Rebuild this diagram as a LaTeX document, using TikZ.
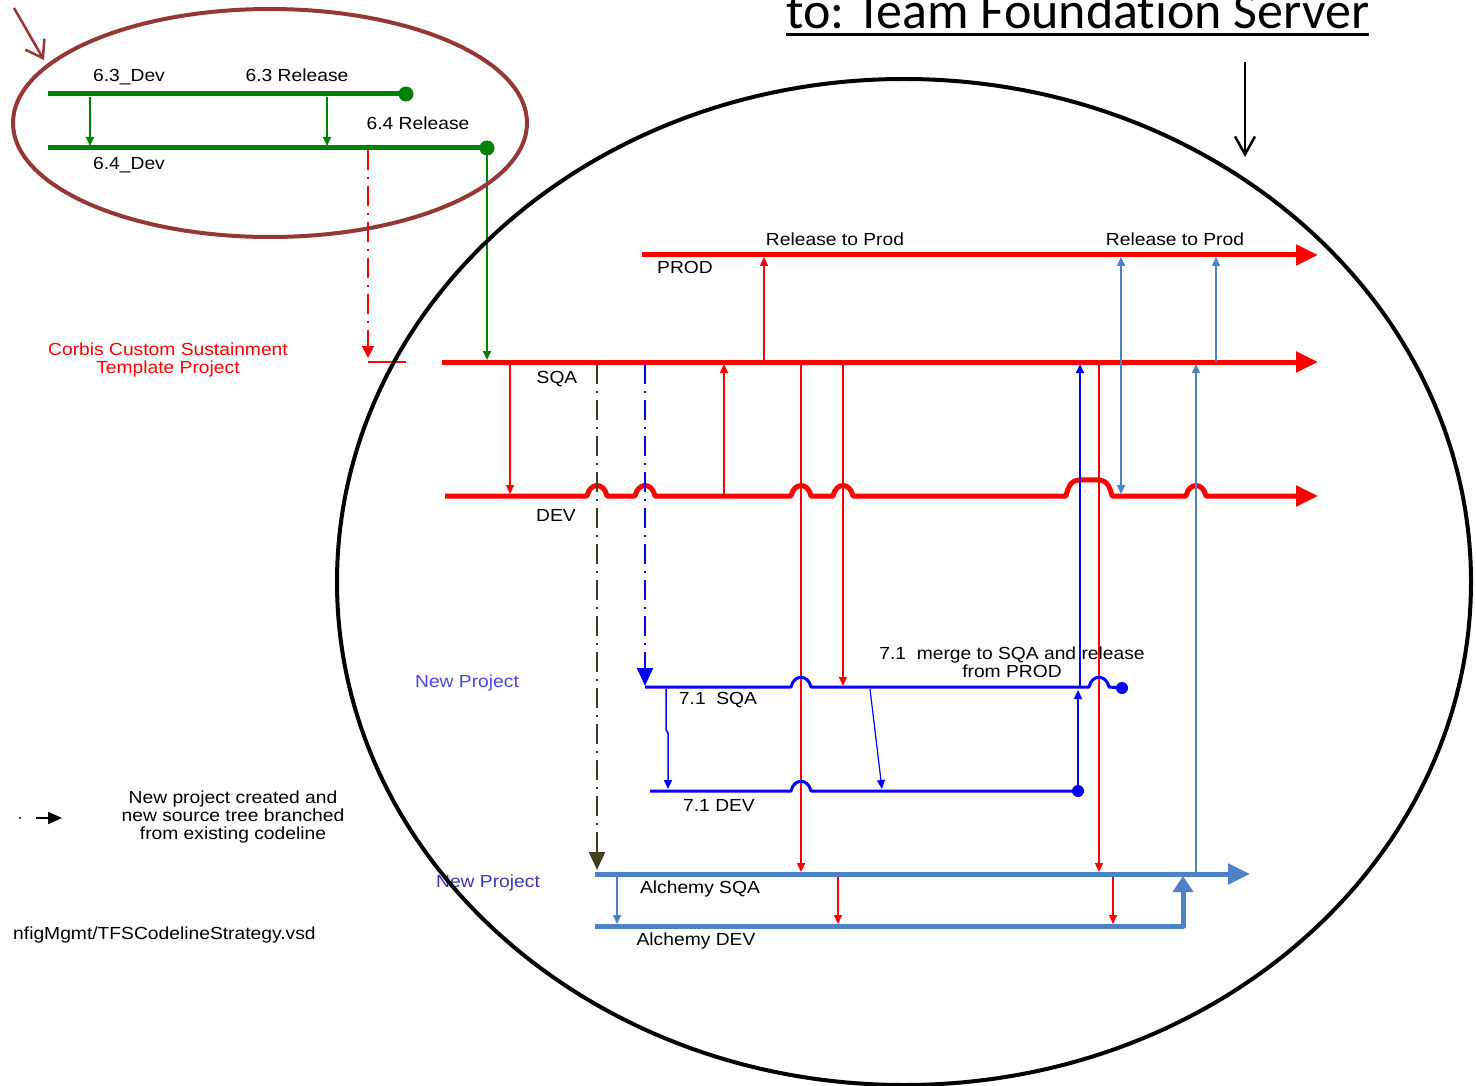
\documentclass[tikz,border=0pt]{standalone}
\usepackage{fontspec}
\setmainfont{Liberation Sans}[FakeStretch=1.1]
\newfontfamily\titlefont{Carlito}[Ligatures=NoCommon]
\usetikzlibrary{arrows.meta}

\definecolor{cbred}{RGB}{255,0,0}
\definecolor{cbgreen}{RGB}{0,128,0}
\definecolor{cbblue}{RGB}{0,0,255}
\definecolor{cbsteel}{RGB}{79,129,199}
\definecolor{cbmaroon}{RGB}{149,55,53}
\definecolor{cbolive}{RGB}{64,64,32}
\definecolor{cbproj}{RGB}{70,70,235}

\tikzset{
  lbl/.style={font=\fontsize{17.5}{18}\selectfont, inner sep=0pt, align=center},
  codeline/.style={line width=5pt, line join=round},
  thinarr/.style={line width=1.5pt, -{Triangle[length=9pt,width=8pt]}},
  bigarr/.style={-{Triangle[length=22pt,width=20pt]}},
  dashdot/.style={line width=2pt, dash pattern=on 20pt off 7pt on 2pt off 7pt},
}

\begin{document}
\begin{tikzpicture}[x=1pt, y=-1pt]
  \useasboundingbox (0,0) rectangle (1476,1086);

  % old green codelines
  \draw[codeline, cbgreen] (48,94) -- (406,94);
  \fill[cbgreen] (406,94) circle (7.5);
  \draw[codeline, cbgreen] (48,148) -- (487,148);
  \fill[cbgreen] (487,148) circle (7.5);
  \draw[thinarr, cbgreen] (90,97) -- (90,146);
  \draw[thinarr, cbgreen] (327,97) -- (327,146);
  \draw[thinarr, cbgreen, line width=2pt] (487,150) -- (487,360);
  \node[lbl] (dev63) at (129,77) {6.3\_Dev};
  \node[lbl] (rel63) at (297,75) {6.3 Release};
  \node[lbl] (rel64) at (418,123) {6.4 Release};
  \node[lbl] (dev64) at (129,165) {6.4\_Dev};

  % template project
  \draw[dashdot, cbred, line width=1.5pt, -{Triangle[length=12pt,width=12pt]}] (368,150) -- (368,358);
  \draw[cbred, line width=2pt] (368,362) -- (406,362);
  \node[lbl, text=cbred] (corbis) at (168,360) {Corbis Custom Sustainment\\Template Project};

  % PROD / SQA / DEV
  \draw[codeline, cbred, bigarr] (642,255) -- (1318,255);
  \draw[codeline, cbred, bigarr] (442,362) -- (1318,362);
  \draw[codeline, cbred, bigarr] (445,496) -- (587,496) .. controls (590,482) and (604,482) .. (607,496)
    -- (635,496) .. controls (638,482) and (652,482) .. (655,496)
    -- (791,496) .. controls (794,482) and (808,482) .. (811,496)
    -- (833,496) .. controls (836,482) and (850,482) .. (853,496)
    -- (1066,496) .. controls (1070,478) and (1076,480) .. (1089,480) .. controls (1102,480) and (1108,478) .. (1112,496)
    -- (1186,496) .. controls (1189,482) and (1203,482) .. (1206,496)
    -- (1318,496);
  \node[lbl] (prodlbl) at (685,267) {PROD};
  \node[lbl] (sqalbl) at (557,379) {SQA};
  \node[lbl] (devlbl) at (556,515) {DEV};
  \node[lbl] (relA) at (835,239) {Release to Prod};
  \node[lbl] (relB) at (1175,239) {Release to Prod};

  % red merges
  \draw[thinarr, cbred] (510,364) -- (510,494);
  \draw[thinarr, cbred] (724,496) -- (724,364);
  \draw[thinarr, cbred] (764,362) -- (764,257);
  \draw[thinarr, cbred] (801,364) -- (801,872);
  \draw[thinarr, cbred] (843,364) -- (843,686);
  \draw[thinarr, cbred] (1099,364) -- (1099,872);
  \draw[thinarr, cbred] (838,876) -- (838,924);
  \draw[thinarr, cbred] (1113,876) -- (1113,924);

  % project 7.1
  \draw[dashdot, cbblue, -{Triangle[length=18pt,width=16pt]}] (645,364) -- (645,686);
  \draw[line width=3pt, cbblue, line join=round] (645,687) -- (791,687) .. controls (794,674) and (808,674) .. (811,687)
    -- (1089,687) .. controls (1092,674) and (1106,674) .. (1109,687) -- (1122,688);
  \fill[cbblue] (1122,688) circle (6);
  \draw[line width=3pt, cbblue, line join=round] (650,791) -- (791,791) .. controls (794,778) and (808,778) .. (811,791) -- (1078,791);
  \fill[cbblue] (1078,791) circle (6);
  \draw[thinarr, cbblue] (666,689) -- (666,730) -- (668,733) -- (668,789);
  \draw[thinarr, cbblue, line width=1.2pt] (870,689) -- (882,789);
  \draw[thinarr, cbblue] (1078,785) -- (1078,690);
  \draw[thinarr, cbblue, line width=2pt] (1080,687) -- (1080,364);
  \node[lbl, text=cbproj] (newA) at (467,683) {New Project};
  \node[lbl] (sqa71) at (718,700) {7.1\ \ SQA};
  \node[lbl] (dev71) at (719,805) {7.1 DEV};
  \node[lbl] (merge71) at (1012,662) {7.1\ \ merge to SQA and release\\from PROD};

  % Alchemy
  \draw[dashdot, cbolive, -{Triangle[length=18pt,width=16pt]}] (597,364) -- (597,870);
  \draw[codeline, cbsteel, bigarr] (595,874) -- (1250,874);
  \draw[codeline, cbsteel, -{Triangle[length=16pt,width=20pt]}] (595,926) -- (1183,926) -- (1183,876);
  \draw[thinarr, cbsteel] (617,876) -- (617,924);
  \draw[thinarr, cbsteel] (1196,872) -- (1196,364);
  \draw[thinarr, cbsteel] (1216,362) -- (1216,257);
  \draw[line width=1.5pt, cbsteel, {Triangle[length=9pt,width=8pt]}-{Triangle[length=9pt,width=8pt]}] (1121,494) -- (1121,257);
  \node[lbl, text=cbproj!80!black] (newB) at (488,883) {New Project};
  \node[lbl] (alcsqa) at (700,889) {Alchemy SQA};
  \node[lbl] (alcdev) at (696,941) {Alchemy DEV};

  % legend
  \fill (20,818) circle (1.2);
  \draw[line width=2pt, -{Triangle[length=14pt,width=12pt]}] (36,818) -- (62,818);
  \node[lbl] (legend) at (233,817) {New project created and\\new source tree branched\\from existing codeline};
  \node[lbl, anchor=west] (vsd) at (13,935) {nfigMgmt/TFSCodelineStrategy.vsd};

  % call-outs
  \draw[cbmaroon, line width=4pt] (270,123) ellipse [x radius=257, y radius=114];
  \draw[cbmaroon, line width=2.5pt, -{Straight Barb[length=16pt,width=22pt]}] (14,8) -- (44,60);
  \draw[line width=4pt] (904,582) ellipse [x radius=567, y radius=503];
  \node[anchor=base west, inner sep=0pt, font=\titlefont\fontsize{52}{60}\selectfont\frenchspacing] (title) at (786,29) {to: Team Foundation Server};
  \draw[line width=3pt] ([yshift=-6pt]title.base west) -- ([yshift=-6pt]title.base east);
  \draw[line width=2.5pt, -{Straight Barb[length=18pt,width=20pt]}] (1245,62) -- (1245,157);
\end{tikzpicture}
\end{document}
